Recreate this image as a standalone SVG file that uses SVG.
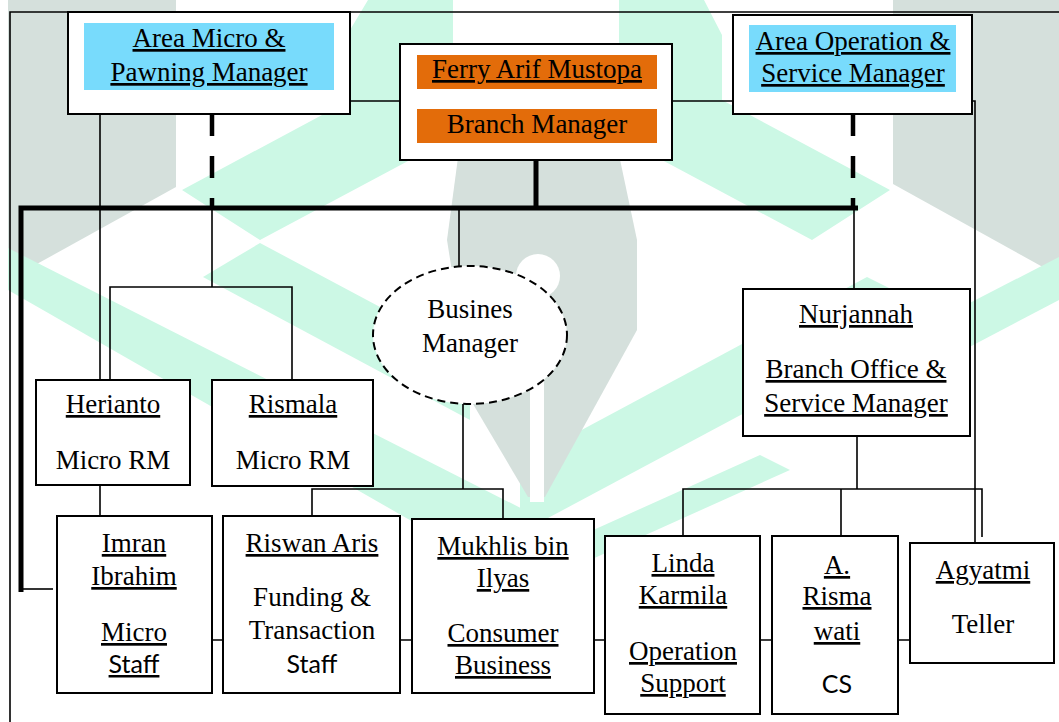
<svg xmlns="http://www.w3.org/2000/svg" width="1059" height="722" viewBox="0 0 1059 722">
<style>
.box{fill:#fff;stroke:#000;stroke-width:2}
.ln{fill:none;stroke:#000;stroke-width:1.6}
.thick{fill:none;stroke:#000;stroke-width:5}
.dash{fill:none;stroke:#000;stroke-width:4.5;stroke-dasharray:22 20}
.gray{fill:#d5e0dc}
.mint{fill:#ccf8e5}
text{font-family:"Liberation Serif","Times New Roman",serif;font-size:27px;text-anchor:middle;fill:#000}
.u{text-decoration:underline;text-decoration-thickness:2px;text-underline-offset:3px}
.sans{font-family:Lato,"Liberation Sans",sans-serif;font-size:25px}
</style>
<rect width="1059" height="722" fill="#fff"/>
<g id="watermark">
<polygon class="gray" points="8,0 176,0 176,187 8,280"/>
<polygon class="gray" points="893,0 1059,0 1059,276 893,184"/>
<polygon class="mint" points="368,0 453,0 453,137 260,240 182,190 350,100 350,30"/>
<polygon class="mint" points="619,0 704,0 722,35 722,100 890,190 812,240 619,137"/>
<polygon class="mint" points="260,243 470,355 470,420 203,277"/>
<polygon class="mint" points="8,248 8,290 560,606 560,528"/>
<polygon class="mint" points="867,277 935,311 520,533 520,463"/>
<polygon class="mint" points="960,308 1059,257 1059,300 960,352"/>
<polygon class="mint" points="760,455 790,470 590,560 560,545"/>
<polygon class="gray" points="459,150 618,150 637,240 637,330 545,497 528,497 473,404 447,240"/>
<circle cx="538" cy="276" r="22" fill="#fff"/>
<rect x="530" y="292" width="14" height="210" fill="#fff"/>
</g>
<g id="frame">
<path class="ln" d="M10,722 V12 H1059"/>
</g>
<g id="connectors">
<path class="ln" d="M350,101 H400 M672,101 H733"/>
<path class="thick" d="M21,592 V208 H858"/>
<path class="thick" d="M536,160 V208"/>
<path class="ln" d="M23,589 H53"/>
<path class="dash" d="M212,114 V208"/>
<path class="dash" d="M853,114 V208"/>
<path class="ln" d="M100,114 V380"/>
<path class="ln" d="M212,208 V287 M110,380 V287 H292 V380"/>
<path class="ln" d="M459,208 V266"/>
<path class="ln" d="M854,208 V289"/>
<path class="ln" d="M972,101 H975 V543"/>
<path class="ln" d="M100,486 V516"/>
<path class="ln" d="M463,404 V489 M312,516 V489 H503 V519"/>
<path class="ln" d="M857,436 V489 M683,536 V489 H982 V537 M841,489 V536"/>
<path class="ln" d="M212,640 H223 M400,640 H412 M594,640 H605 M760,640 H772 M898,640 H910"/>
</g>
<g id="area-micro">
<rect class="box" x="68" y="12" width="282" height="102"/>
<rect x="84" y="23" width="250" height="67" fill="#78dbfc"/>
<text class="u" x="209" y="47">Area Micro &amp;</text>
<text class="u" x="209" y="81">Pawning Manager</text>
</g>
<g id="branch-manager">
<rect class="box" x="400" y="44" width="272" height="116"/>
<rect x="417" y="55" width="240" height="34" fill="#e36c0a"/>
<rect x="417" y="109" width="240" height="34" fill="#e36c0a"/>
<text class="u" x="537" y="78">Ferry Arif Mustopa</text>
<text x="537" y="133">Branch Manager</text>
</g>
<g id="area-operation">
<rect class="box" x="733" y="15" width="239" height="99"/>
<rect x="749" y="25" width="207" height="67" fill="#78dbfc"/>
<text class="u" x="853" y="50">Area Operation &amp;</text>
<text class="u" x="853" y="82">Service Manager</text>
</g>
<g id="busines-manager">
<ellipse cx="470" cy="335" rx="97" ry="69" fill="#fff" stroke="#000" stroke-width="2" stroke-dasharray="8 5"/>
<text x="470" y="318">Busines</text>
<text x="470" y="352">Manager</text>
</g>
<g id="nurjannah">
<rect class="box" x="743" y="289" width="227" height="147"/>
<text class="u" x="856" y="323">Nurjannah</text>
<text class="u" x="856" y="378">Branch Office &amp;</text>
<text class="u" x="856" y="412">Service Manager</text>
</g>
<g id="herianto">
<rect class="box" x="36" y="380" width="154" height="105"/>
<text class="u" x="113" y="413">Herianto</text>
<text x="113" y="469">Micro RM</text>
</g>
<g id="rismala">
<rect class="box" x="212" y="380" width="161" height="106"/>
<text class="u" x="293" y="413">Rismala</text>
<text x="293" y="469">Micro RM</text>
</g>
<g id="imran">
<rect class="box" x="57" y="516" width="155" height="177"/>
<text class="u" x="134" y="552">Imran</text>
<text class="u" x="134" y="585">Ibrahim</text>
<text class="u" x="134" y="641">Micro</text>
<text class="u sans" x="134" y="673">Staff</text>
</g>
<g id="riswan">
<rect class="box" x="223" y="516" width="177" height="177"/>
<text class="u" x="312" y="552">Riswan Aris</text>
<text x="312" y="606">Funding &amp;</text>
<text x="312" y="639">Transaction</text>
<text class="sans" x="312" y="673">Staff</text>
</g>
<g id="mukhlis">
<rect class="box" x="412" y="519" width="182" height="174"/>
<text class="u" x="503" y="555">Mukhlis bin</text>
<text class="u" x="503" y="587">Ilyas</text>
<text class="u" x="503" y="642">Consumer</text>
<text class="u" x="503" y="674">Business</text>
</g>
<g id="linda">
<rect class="box" x="605" y="536" width="155" height="178"/>
<text class="u" x="683" y="572">Linda</text>
<text class="u" x="683" y="604">Karmila</text>
<text class="u" x="683" y="660">Operation</text>
<text class="u" x="683" y="692">Support</text>
</g>
<g id="a-rismawati">
<rect class="box" x="772" y="536" width="126" height="178"/>
<text class="u" x="837" y="574">A.</text>
<text class="u" x="837" y="605">Risma</text>
<text class="u" x="837" y="640">wati</text>
<text class="sans" x="837" y="693">CS</text>
</g>
<g id="agyatmi">
<rect class="box" x="910" y="543" width="144" height="120"/>
<text class="u" x="983" y="579">Agyatmi</text>
<text x="983" y="633">Teller</text>
</g>
</svg>
